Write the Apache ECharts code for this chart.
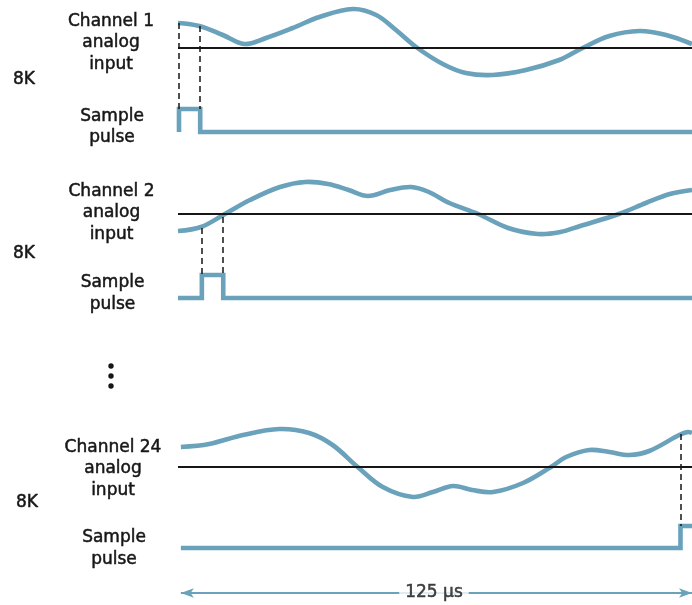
<!DOCTYPE html>
<html>
<head>
<meta charset="utf-8">
<script src="https://cdn.jsdelivr.net/npm/echarts@6/dist/echarts.min.js"></script>
<style>html,body{margin:0;padding:0;background:#fff}#c{width:692px;height:605px}</style>
</head>
<body>
<div id="c"></div>
<script>
// ---- data (time in µs, amplitude in arbitrary units relative to the zero line) ----
const ch1Times = [0, 5.2, 10.9, 16.1, 21.4, 27.9, 34.4, 42.5, 48.2, 53.0, 57.9, 64.4, 70.0, 76.5, 84.6, 92.7, 98.4, 104.9, 112.2, 118.7, 125];
const ch1Values = [2.5, 2.2, 1.3, 0.4, 1.0, 2.0, 3.1, 3.9, 3.3, 1.8, 0.1, -1.6, -2.5, -2.7, -2.2, -1.2, 0, 1.2, 1.7, 1.3, 0.4];
const ch2Times = [0, 5.6, 11.4, 17.5, 24.8, 31.0, 36.5, 41.5, 46.2, 51.6, 56.7, 61.0, 66.0, 73.0, 80.3, 87.5, 93.0, 97.8, 107.2, 113.8, 119.6, 125];
const ch2Values = [-1.7, -1.3, 0, 1.4, 2.7, 3.2, 3.0, 2.4, 1.8, 2.4, 2.7, 2.2, 1.1, 0, -1.4, -2.0, -1.8, -1.2, 0, 1.1, 2.0, 2.4];
const ch24Times = [0.7, 7.6, 15.8, 24.6, 31.9, 37.6, 43.7, 49.8, 57.1, 62.0, 66.9, 71.5, 76.6, 83.9, 90.7, 94.4, 100.0, 104.9, 109.8, 114.6, 121.9, 124.0, 125];
const ch24Values = [2.0, 2.3, 3.2, 3.8, 3.4, 2.2, 0, -2.0, -3.0, -2.5, -1.9, -2.3, -2.5, -1.6, 0, 1.0, 1.7, 1.5, 1.2, 1.6, 3.2, 3.5, 3.4];

const pulse1Times = [0.24, 0.24, 5.4, 5.4, 125];
const pulse1Values = [-8.4, -6.1, -6.1, -8.4, -8.4];
const pulse2Times = [0, 5.8, 5.8, 11.0, 11.0, 125];
const pulse2Values = [-8.4, -8.4, -6.1, -6.1, -8.4, -8.4];
const pulse24Times = [0.7, 122.2, 122.2, 125];
const pulse24Values = [-8.1, -8.1, -5.9, -5.9];

// sample instants: [time, waveform value, pulse top]
const ch1Samples = [[0.24, 2.5, -6.1], [5.4, 2.2, -6.1]];
const ch2Samples = [[5.8, -1.4, -6.1], [11.0, -0.3, -6.1]];
const ch24Samples = [[122.2, 3.3, -5.9]];

const channelNames = ['Channel 1', 'Channel 2', 'Channel 24'];
const rateLabel = '8K';
const periodSpan = [0.7, 125];
const periodLabel = '125 µs';

// ---- styling ----
const BLUE = '#6aa2bb';
const INK = '#161616';
const FONT = '"DejaVu Sans", sans-serif';

const zip = (t, v) => t.map((x, i) => [x, v[i]]);

const panels = [
  {top: 3, t: ch1Times, v: ch1Values, pt: pulse1Times, pv: pulse1Values, s: ch1Samples},
  {top: 169, t: ch2Times, v: ch2Values, pt: pulse2Times, pv: pulse2Values, s: ch2Samples},
  {top: 422, t: ch24Times, v: ch24Values, pt: pulse24Times, pv: pulse24Values, s: ch24Samples}
];

// smooth curve through the data points, drawn through the axis scales
function waveRender(params, api) {
  if (params.dataIndexInside !== 0) return null;
  const pts = [];
  for (let k = 0; k < params.dataInsideLength; k++) {
    pts.push(api.coord([api.value(0, k), api.value(1, k)]));
  }
  return {
    type: 'polyline', silent: true,
    shape: {points: pts, smooth: 0.35},
    style: {stroke: BLUE, lineWidth: 4.6, fill: null, lineJoin: 'round', lineCap: 'butt'}
  };
}

const grid = [], xAxis = [], yAxis = [], series = [];
panels.forEach((p, i) => {
  grid.push({left: 178, right: 0, top: p.top, height: 140});
  xAxis.push({gridIndex: i, type: 'value', min: 0, max: 125, show: false});
  yAxis.push({gridIndex: i, type: 'value', min: -9.5, max: 4.5, show: false});
  series.push({
    type: 'line', xAxisIndex: i, yAxisIndex: i, data: zip(p.pt, p.pv),
    showSymbol: false, clip: false, z: 3,
    lineStyle: {color: BLUE, width: 4.6, join: 'miter', cap: 'butt'},
    markLine: {
      silent: true, symbol: 'none', label: {show: false},
      lineStyle: {color: INK, width: 1.5, type: [6, 4]},
      data: [{yAxis: 0, lineStyle: {color: INK, width: 2.2, type: 'solid'}}]
        .concat(p.s.map(s => [{coord: [s[0], s[1]]}, {coord: [s[0], s[2]]}])),
      animation: false
    }
  });
  series.push({
    type: 'custom', xAxisIndex: i, yAxisIndex: i, data: zip(p.t, p.v),
    encode: {x: 0, y: 1}, renderItem: waveRender, clip: false, z: 4
  });
});

// period arrow
grid.push({left: 178, right: 0, top: 583, height: 20});
xAxis.push({gridIndex: 3, type: 'value', min: 0, max: 125, show: false});
yAxis.push({gridIndex: 3, type: 'value', min: -1, max: 1, show: false});
series.push({
  type: 'line', xAxisIndex: 3, yAxisIndex: 3, data: [], showSymbol: false,
  markLine: {
    silent: true, symbol: ['arrow', 'arrow'], symbolSize: [7, 13], label: {show: false},
    lineStyle: {color: BLUE, width: 1.8, type: 'solid'},
    data: [[{coord: [periodSpan[0], 0]}, {coord: [periodSpan[1], 0]}]],
    animation: false
  }
});
series.push({
  type: 'scatter', xAxisIndex: 3, yAxisIndex: 3, z: 10,
  data: [[(periodSpan[0] + periodSpan[1]) / 2 - 0.6, 0]], symbolSize: 1,
  itemStyle: {color: 'rgba(0,0,0,0)'},
  label: {show: true, position: 'inside', formatter: periodLabel, color: INK,
    fontFamily: FONT, fontSize: 17, backgroundColor: '#fff', padding: [2, 6],
    textBorderColor: INK, textBorderWidth: 0.5}
});

// left-side text
const textEl = (txt, x, y) => ({
  type: 'text', x: x, y: y,
  style: {text: txt, fill: INK, stroke: INK, lineWidth: 0.5, font: '17px ' + FONT,
    align: 'center', verticalAlign: 'middle', lineHeight: 21.5}
});
const labelCfg = [
  {cx: 111, cy: 43, sy: 127, kx: 24, ky: 80},
  {cx: 111.5, cy: 213, sy: 293.5, kx: 24, ky: 254},
  {cx: 113, cy: 469, sy: 548.5, kx: 27, ky: 503}
];
const graphic = [];
labelCfg.forEach((c, i) => {
  graphic.push(textEl(channelNames[i] + '\nanalog\ninput', c.cx, c.cy));
  graphic.push(textEl('Sample\npulse', c.cx + 1, c.sy));
  graphic.push(textEl(rateLabel, c.kx, c.ky));
});
[366, 376, 386].forEach(y => graphic.push({type: 'circle', shape: {cx: 111, cy: y, r: 2.7}, style: {fill: INK}}));

const chart = echarts.init(document.getElementById('c'), null, {renderer: 'canvas'});
chart.setOption({animation: false, backgroundColor: '#fff', grid, xAxis, yAxis, series, graphic});
</script>
</body>
</html>
